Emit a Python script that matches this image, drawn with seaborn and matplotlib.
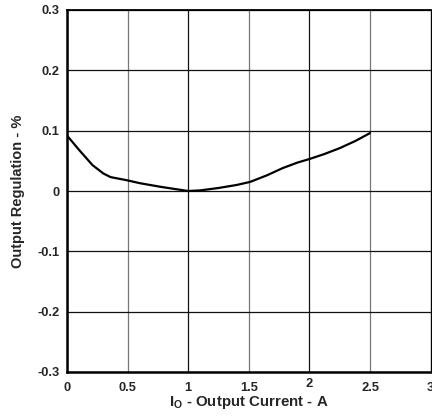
import matplotlib
matplotlib.use("Agg")
import matplotlib.pyplot as plt
import seaborn as sns
import pandas as pd

# Output regulation vs output current
current_a = [0.0, 0.1, 0.21, 0.3, 0.36, 0.49, 0.6, 0.77, 0.9, 1.0, 1.1, 1.25, 1.4, 1.51, 1.65, 1.78, 1.9, 2.0, 2.12, 2.25, 2.38, 2.5]
regulation_pct = [0.092, 0.068, 0.043, 0.029, 0.023, 0.018, 0.013, 0.007, 0.003, 0.0, 0.001, 0.005, 0.01, 0.015, 0.026, 0.038, 0.047, 0.053, 0.061, 0.071, 0.083, 0.096]

x_ticks = [0, 0.5, 1, 1.5, 2, 2.5, 3]
x_tick_labels = ["0", "0.5", "1", "1.5", "2", "2.5", "3"]
y_ticks = [-0.3, -0.2, -0.1, 0, 0.1, 0.2, 0.3]
y_tick_labels = ["-0.3", "-0.2", "-0.1", "0", "0.1", "0.2", "0.3"]

df = pd.DataFrame({"current": current_a, "regulation": regulation_pct})

sns.set_style("white")
plt.rcParams["font.family"] = ["Liberation Sans", "DejaVu Sans"]
plt.rcParams["font.weight"] = "bold"
plt.rcParams["mathtext.fontset"] = "custom"
plt.rcParams["mathtext.bf"] = "Liberation Sans:bold"
plt.rcParams["mathtext.rm"] = "Liberation Sans:bold"

fig = plt.figure(figsize=(4.32, 4.16), dpi=100)
ax = fig.add_axes([67 / 432, 44 / 416, 363.6 / 432, 362 / 416])

sns.lineplot(data=df, x="current", y="regulation", color="black", linewidth=1.6, ax=ax)

ax.set_xlim(0, 3)
ax.set_ylim(-0.3, 0.3)
ax.set_xticks(x_ticks)
ax.set_xticklabels(x_tick_labels, fontsize=9.3, fontweight="bold")
ax.set_yticks(y_ticks)
ax.set_yticklabels(y_tick_labels, fontsize=9.3, fontweight="bold")
ax.tick_params(axis="x", length=0, pad=7.5)
ax.tick_params(axis="y", length=0, pad=5.5)

# the "2" label sits a bit higher in the original
for lbl in ax.get_xticklabels():
    if lbl.get_text() == "2":
        lbl.set_y(0.012)

ax.grid(True, color="#111111", linewidth=0.9)
for x, gl in zip(x_ticks, ax.get_xgridlines()):
    if x in (0.5, 1.5, 2.5):
        gl.set_color("#777777")

for side in ["left", "bottom"]:
    ax.spines[side].set_linewidth(1.8)
ax.spines["top"].set_linewidth(1.3)
ax.spines["right"].set_linewidth(0.8)
for s in ax.spines.values():
    s.set_color("black")

ax.set_xlabel(r"I$_\mathbf{O}$ - Output Current - A", fontsize=10.8, fontweight="bold", labelpad=0)
ax.set_ylabel("Output Regulation - %", fontsize=10.5, fontweight="bold", labelpad=9)

fig.savefig("out.png", dpi=100)
